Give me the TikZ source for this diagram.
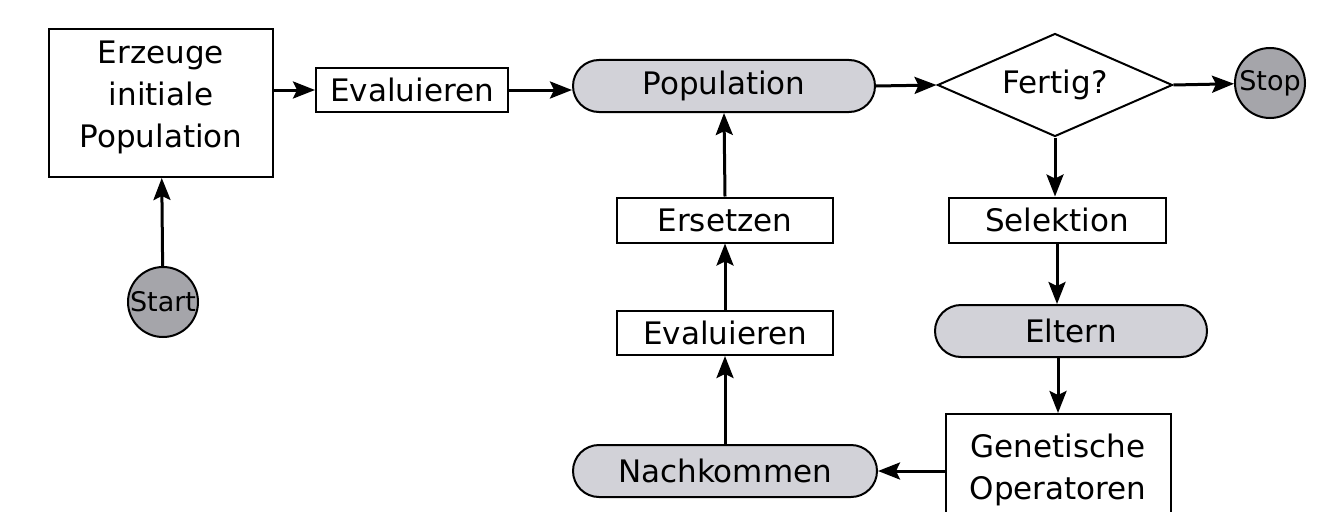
\documentclass[tikz,border=0pt]{standalone}
\usepackage{fontspec}
\setmainfont{DejaVu Sans}
\usetikzlibrary{shapes.geometric,shapes.misc,arrows.meta}
\definecolor{pillgray}{RGB}{210,210,216}
\definecolor{circgray}{RGB}{165,165,170}
\begin{document}
\begin{tikzpicture}[x=1pt,y=-1pt,
 every node/.style={font=\fontsize{31}{42}\selectfont, align=center},
 box/.style={draw, line width=2pt, fill=white, inner sep=0pt},
 pill/.style={rounded rectangle, draw, line width=2pt, fill=pillgray, inner sep=0pt},
 term/.style={circle, draw, line width=2pt, fill=circgray, inner sep=0pt, minimum size=70pt, font=\fontsize{27}{30}\selectfont},
 arr/.style={line width=3pt, -{Stealth[length=22pt,width=17pt,inset=4pt]}}]
\useasboundingbox (0,0) rectangle (1340,511);
\fill[white] (0,0) rectangle (1340,511);

\node[box, minimum width=224pt, minimum height=148pt] (erz) at (161,103) {};
\node (erztxt) at (161,97) {Erzeuge\\initiale\\Population};
\node[term] (start) at (163,302) {Start};
\node[box, minimum width=192pt, minimum height=44pt] (ev1) at (412,90) {Evaluieren};
\node[pill, minimum width=302pt, minimum height=52pt] (pop) at (724,86) {Population};
\node[diamond, draw, line width=2pt, fill=white, inner sep=0pt, aspect=2.28, minimum width=235pt, minimum height=103pt] (dia) at (1055,85) {Fertig?};
\node[term] (stop) at (1270,83) {Stop};
\node[box, minimum width=217pt, minimum height=45pt] (sel) at (1057,220) {Selektion};
\node[pill, minimum width=272pt, minimum height=52pt] (elt) at (1071,331) {Eltern};
\node[box, minimum width=225pt, minimum height=112pt] (gen) at (1058,470) {Genetische\\Operatoren};
\node[pill, minimum width=304pt, minimum height=52pt] (nach) at (725,471) {Nachkommen};
\node[box, minimum width=216pt, minimum height=44pt] (ev2) at (725,333) {Evaluieren};
\node[box, minimum width=216pt, minimum height=45pt] (ers) at (725,220) {Ersetzen};

\draw[arr] (start) -- (erz);
\draw[arr] (erz.east |- ev1.west) -- (ev1.west);
\draw[arr] (ev1.east) -- (ev1.east -| pop.west);
\draw[arr] (pop.east) -- (dia.west);
\draw[arr] (dia.east) -- (stop);
\draw[arr] (dia.south) -- (dia.south |- sel.north);
\draw[arr] (sel.south) -- (sel.south |- elt.north);
\draw[arr] (elt.south -| gen.north) -- (gen.north);
\draw[arr] (gen.west |- nach.east) -- (nach.east);
\draw[arr] (nach.north) -- (ev2.south);
\draw[arr] (ev2.north) -- (ers.south);
\draw[arr] (ers.north) -- (pop.south);
\end{tikzpicture}
\end{document}
